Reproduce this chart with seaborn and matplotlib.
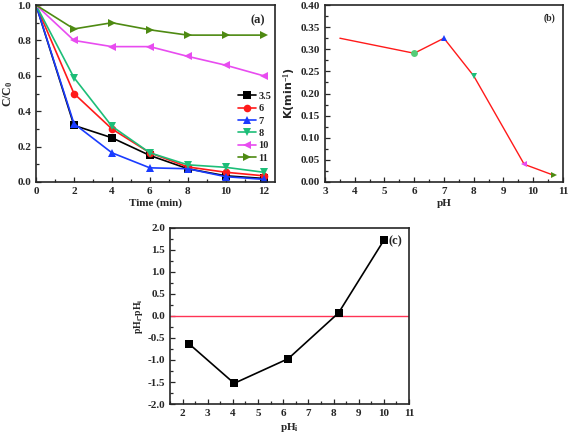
import numpy as np
import pandas as pd
import matplotlib
matplotlib.use("Agg")
import matplotlib.pyplot as plt
from matplotlib.ticker import AutoMinorLocator, MultipleLocator, FormatStrFormatter
import seaborn as sns

sns.set_style("ticks")
plt.rcParams['font.family'] = ['Liberation Serif', 'DejaVu Serif']
plt.rcParams['font.weight'] = 'bold'
plt.rcParams['axes.labelweight'] = 'bold'
plt.rcParams['mathtext.fontset'] = 'custom'
plt.rcParams['mathtext.rm'] = 'Liberation Serif:bold'
plt.rcParams['mathtext.it'] = 'Liberation Serif:bold'
plt.rcParams['mathtext.bf'] = 'Liberation Serif:bold'

# panel (a): C/C0 vs time for different pH
time = [0, 2, 4, 6, 8, 10, 12]
ph_labels = ["3.5", "6", "7", "8", "10", "11"]
c_35 = [1.0, 0.32, 0.25, 0.15, 0.075, 0.035, 0.02]
c_6 = [1.0, 0.50, 0.30, 0.165, 0.085, 0.055, 0.035]
c_7 = [1.0, 0.33, 0.165, 0.08, 0.075, 0.03, 0.015]
c_8 = [1.0, 0.59, 0.315, 0.165, 0.097, 0.083, 0.055]
c_10 = [1.0, 0.80, 0.765, 0.765, 0.71, 0.66, 0.60]
c_11 = [1.0, 0.865, 0.90, 0.86, 0.83, 0.83, 0.83]

# panel (b): rate constant vs pH
ph_k = [3.5, 6, 7, 8, 9.7, 10.7]
k_vals = [0.325, 0.291, 0.325, 0.240, 0.040, 0.015]

# panel (c): pH drift
ph_i = [2.25, 4.05, 6.2, 8.2, 10.0]
ph_diff = [-0.63, -1.53, -0.97, 0.07, 1.72]

colors = ["#000000", "#FF1A1A", "#1A3CFF", "#1DBE78", "#E84CF0", "#4E8A12"]
marks = ["s", "o", "^", "v", "<", ">"]

df_a = pd.DataFrame({
    "time": time * 6,
    "c": c_35 + c_6 + c_7 + c_8 + c_10 + c_11,
    "pH": sum([[p] * len(time) for p in ph_labels], []),
})

fig = plt.figure(figsize=(5.69, 4.38), dpi=100)
ax_a = fig.add_axes([0.0633, 0.5845, 0.42, 0.404])
ax_b = fig.add_axes([0.5712, 0.5845, 0.418, 0.404])
ax_c = fig.add_axes([0.2988, 0.0776, 0.42, 0.402])


def style_ax(ax):
    ax.tick_params(direction="in", which="both", labelsize=8, width=0.9)
    ax.tick_params(which="major", length=3.5)
    ax.tick_params(which="minor", length=2)
    ax.xaxis.set_minor_locator(AutoMinorLocator(2))
    ax.yaxis.set_minor_locator(AutoMinorLocator(2))
    for s in ax.spines.values():
        s.set_visible(True)
        s.set_linewidth(1.2)
    for lab in ax.get_xticklabels() + ax.get_yticklabels():
        lab.set_fontweight("bold")


# (a)
sns.lineplot(data=df_a, x="time", y="c", hue="pH", style="pH",
             palette=colors, markers=marks, dashes=False, markersize=5.5,
             markeredgewidth=0, linewidth=1.2, ax=ax_a)
ax_a.set_xlim(0, 12.6)
ax_a.set_ylim(0, 1.0)
ax_a.xaxis.set_major_locator(MultipleLocator(2))
ax_a.yaxis.set_major_locator(MultipleLocator(0.2))
ax_a.set_xlabel("Time (min)", fontsize=8, labelpad=2)
ax_a.set_ylabel("C/C$_0$", fontsize=8.5, labelpad=2)
ax_a.text(0.96, 0.95, "(a)", transform=ax_a.transAxes, ha="right", va="top",
          fontsize=9, fontweight="bold")
leg = ax_a.legend(loc="center right", bbox_to_anchor=(1.01, 0.31), frameon=False,
                  fontsize=7.5, handlelength=1.7, handletextpad=0.2,
                  labelspacing=0.3, borderaxespad=0.2)
for t in leg.get_texts():
    t.set_fontweight("bold")
style_ax(ax_a)

# (b)
sns.lineplot(x=ph_k, y=k_vals, color="#FF1A1A", linewidth=1.0, ax=ax_b)
for xv, yv, c, m in zip(ph_k[1:], k_vals[1:], ["#55CC77"] + colors[2:],
                        ["o", "^", "v", "<", ">"]):
    ax_b.plot(xv, yv, marker=m, color=c, markersize=5, markeredgewidth=0, zorder=3)
ax_b.set_xlim(3, 11)
ax_b.set_ylim(0, 0.40)
ax_b.xaxis.set_major_locator(MultipleLocator(1))
ax_b.yaxis.set_major_locator(MultipleLocator(0.05))
ax_b.yaxis.set_major_formatter(FormatStrFormatter("%.2f"))
ax_b.set_xlabel("pH", fontsize=8, labelpad=2)
ax_b.set_ylabel("K(min$^{-1}$)", fontsize=8, labelpad=2, family="DejaVu Sans")
ax_b.text(0.97, 0.95, "(b)", transform=ax_b.transAxes, ha="right", va="top",
          fontsize=7, fontweight="bold")
style_ax(ax_b)

# (c)
ax_c.axhline(0, color="#FF3355", linewidth=1.0)
sns.lineplot(x=ph_i, y=ph_diff, color="black", marker="s", markersize=5.5,
             markeredgewidth=0, linewidth=1.2, ax=ax_c)
ax_c.set_xlim(1.5, 11)
ax_c.set_ylim(-2.0, 2.0)
ax_c.xaxis.set_major_locator(MultipleLocator(1))
ax_c.yaxis.set_major_locator(MultipleLocator(0.5))
ax_c.yaxis.set_major_formatter(FormatStrFormatter("%.1f"))
ax_c.set_xlabel("pH$_\\mathregular{i}$", fontsize=8, labelpad=2)
ax_c.set_ylabel("pH$_\\mathregular{f}$-pH$_\\mathregular{i}$", fontsize=7, labelpad=2)
ax_c.text(0.97, 0.96, "(c)", transform=ax_c.transAxes, ha="right", va="top",
          fontsize=9, fontweight="bold")
style_ax(ax_c)

fig.savefig("out.png", dpi=100)
